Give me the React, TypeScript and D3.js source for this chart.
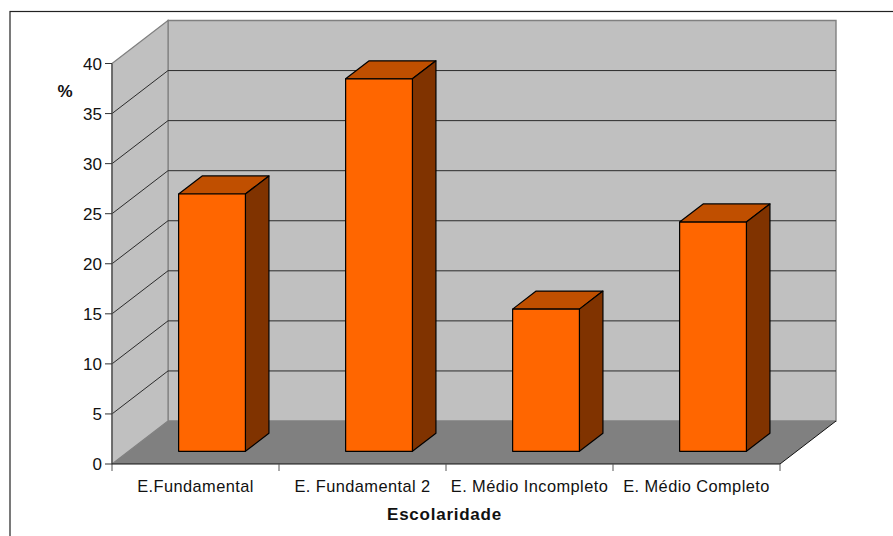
import React from "react";
import * as d3 from "d3";

const categories = ["E.Fundamental", "E. Fundamental 2", "E. Médio Incompleto", "E. Médio Completo"];
const percentages = [25.7, 37.2, 14.2, 22.9];
const yTicks = [0, 5, 10, 15, 20, 25, 30, 35, 40];

const FONT = "'Liberation Sans', Arial, sans-serif";
const WIDTH = 893;
const HEIGHT = 536;

// Plot frame of the pseudo-3D box
const X0 = 112;
const X1 = 780;
const Y0 = 464;
const Y1 = 63.5;
const DEPTH_X = 56;
const DEPTH_Y = 43;

// Bars occupy this slice of the box depth
const BAR_D0 = 0.295;
const BAR_D1 = 0.715;

const x = d3.scaleBand<string>().domain(categories).range([X0, X1]).paddingInner(0.6).paddingOuter(0.3);
const y = d3.scaleLinear().domain([0, 40]).range([Y0, Y1]);

const poly = (pts: [number, number][]) => {
  const p = d3.path();
  pts.forEach(([a, b], i) => (i ? p.lineTo(a, b) : p.moveTo(a, b)));
  p.closePath();
  return p.toString();
};

export default function App() {
  const bandStep = x.step();
  return (
    <svg
      width={WIDTH}
      height={HEIGHT}
      style={{ position: "absolute", left: 0, top: 0, background: "#fff" }}
      fontFamily={FONT}
    >
      {/* outer chart frame, open past the page edges */}
      <rect x={10} y={11.5} width={WIDTH + 20} height={HEIGHT + 20} fill="#fff" stroke="#222" strokeWidth={1.2} />

      {/* walls */}
      <path
        d={poly([[X0 + DEPTH_X, Y1 - DEPTH_Y], [X1 + DEPTH_X, Y1 - DEPTH_Y], [X1 + DEPTH_X, Y0 - DEPTH_Y], [X0 + DEPTH_X, Y0 - DEPTH_Y]])}
        fill="#c0c0c0"
        stroke="#808080"
        strokeWidth={1.4}
      />
      <path
        d={poly([[X0, Y1], [X0 + DEPTH_X, Y1 - DEPTH_Y], [X0 + DEPTH_X, Y0 - DEPTH_Y], [X0, Y0]])}
        fill="#c0c0c0"
        stroke="#808080"
        strokeWidth={1.2}
      />

      {/* floor */}
      <path
        d={poly([[X0, Y0], [X0 + DEPTH_X, Y0 - DEPTH_Y], [X1 + DEPTH_X, Y0 - DEPTH_Y], [X1, Y0]])}
        fill="#808080"
      />
      <line x1={X1} y1={Y0} x2={X1 + DEPTH_X} y2={Y0 - DEPTH_Y} stroke="#111" strokeWidth={1} />

      {/* gridlines on both walls */}
      {yTicks.slice(1, -1).map((t) => (
        <path
          key={t}
          d={`M${X0},${y(t)}L${X0 + DEPTH_X},${y(t) - DEPTH_Y}L${X1 + DEPTH_X},${y(t) - DEPTH_Y}`}
          fill="none"
          stroke="#2b2b2b"
          strokeWidth={1}
        />
      ))}

      {/* bars */}
      {categories.map((c, i) => {
        const left = (x(c) as number) + DEPTH_X * BAR_D0;
        const right = left + x.bandwidth();
        const bottom = Y0 - DEPTH_Y * BAR_D0;
        const top = y(percentages[i]) - DEPTH_Y * BAR_D0;
        const dx = DEPTH_X * (BAR_D1 - BAR_D0);
        const dy = DEPTH_Y * (BAR_D1 - BAR_D0);
        return (
          <g key={c} stroke="#000" strokeWidth={1.2} strokeLinejoin="round">
            <path d={poly([[left, top], [left + dx, top - dy], [right + dx, top - dy], [right, top]])} fill="#c04f00" />
            <path d={poly([[right, top], [right + dx, top - dy], [right + dx, bottom - dy], [right, bottom]])} fill="#803300" />
            <rect x={left} y={top} width={right - left} height={bottom - top} fill="#ff6600" />
          </g>
        );
      })}

      {/* value axis */}
      <line x1={X0} y1={Y1} x2={X0} y2={Y0} stroke="#555" strokeWidth={1.4} />
      {yTicks.map((t) => (
        <g key={t}>
          <line x1={X0 - 7} y1={y(t)} x2={X0} y2={y(t)} stroke="#333" strokeWidth={1} />
          <text x={X0 - 10} y={y(t)} dy="0.36em" textAnchor="end" fontSize={17} fill="#111">
            {t}
          </text>
        </g>
      ))}
      <text x={65} y={97} textAnchor="middle" fontSize={17} fontWeight="bold" fill="#111">
        %
      </text>

      {/* category axis */}
      <line x1={X0} y1={Y0} x2={X1} y2={Y0} stroke="#111" strokeWidth={1.2} />
      {d3.range(categories.length + 1).map((i) => (
        <line key={i} x1={X0 + i * bandStep} y1={Y0} x2={X0 + i * bandStep} y2={Y0 + 7} stroke="#555" strokeWidth={1} />
      ))}
      {categories.map((c, i) => (
        <text key={c} x={X0 + (i + 0.5) * bandStep} y={491.5} textAnchor="middle" fontSize={16.4} letterSpacing={0.42} fill="#111">
          {c}
        </text>
      ))}
      <text x={444.5} y={520} textAnchor="middle" fontSize={17} letterSpacing={0.75} fontWeight="bold" fill="#111">
        Escolaridade
      </text>
    </svg>
  );
}
